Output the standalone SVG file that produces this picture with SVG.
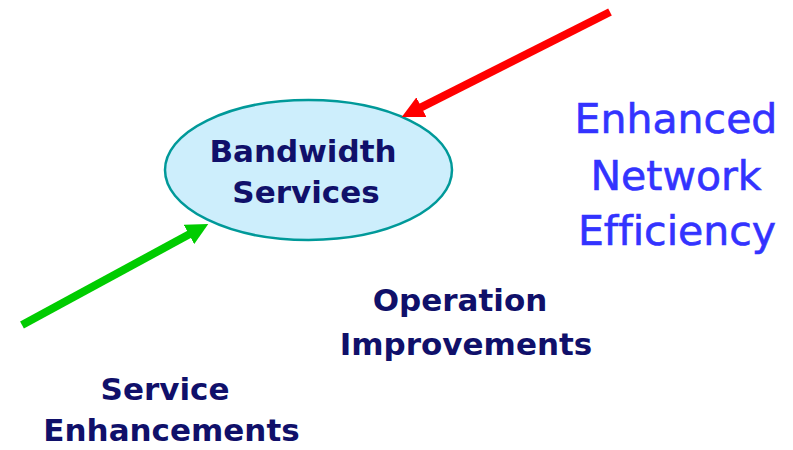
<svg xmlns="http://www.w3.org/2000/svg" width="793" height="450" viewBox="0 0 793 450">
<style>
.lbl{font-family:"DejaVu Sans","Liberation Sans",sans-serif;font-weight:bold;font-size:31px;fill:#10106a;text-anchor:middle;font-variant-ligatures:none}
.big{font-family:"DejaVu Sans","Liberation Sans",sans-serif;font-size:41px;fill:#3333ff;text-anchor:middle;font-variant-ligatures:none;stroke:#3333ff;stroke-width:0.6}
.shaft{stroke-width:8;fill:none}
</style>
<defs>
<marker id="hr" markerUnits="userSpaceOnUse" viewBox="0 0 22 22" refX="2" refY="11" markerWidth="22" markerHeight="22" orient="auto"><path d="M0,0 L22,11 L0,22 z" fill="#ff0000"/></marker>
<marker id="hg" markerUnits="userSpaceOnUse" viewBox="0 0 22 22" refX="2" refY="11" markerWidth="22" markerHeight="22" orient="auto"><path d="M0,0 L22,11 L0,22 z" fill="#00cc00"/></marker>
</defs>
<rect width="793" height="450" fill="#ffffff"/>
<g id="bandwidth">
<ellipse cx="308.5" cy="170" rx="143.5" ry="70" fill="#cdeefc" stroke="#009999" stroke-width="2.5"/>
<text class="lbl" x="303" y="162">Bandwidth</text>
<text class="lbl" x="306" y="203">Services</text>
</g>
<g id="connectors">
<line class="shaft" x1="610" y1="12" x2="419.6" y2="108.1" stroke="#ff0000" marker-end="url(#hr)"/>
<line class="shaft" x1="22" y1="325" x2="190.7" y2="233.5" stroke="#00cc00" marker-end="url(#hg)"/>
</g>
<g id="enhanced">
<text class="big" x="676" y="133">Enhanced</text>
<text class="big" x="676" y="190">Network</text>
<text class="big" x="677" y="245">Efficiency</text>
</g>
<g id="operation">
<text class="lbl" x="460" y="311">Operation</text>
<text class="lbl" x="466" y="355">Improvements</text>
</g>
<g id="service">
<text class="lbl" x="165" y="400">Service</text>
<text class="lbl" x="171.5" y="441">Enhancements</text>
</g>
</svg>
